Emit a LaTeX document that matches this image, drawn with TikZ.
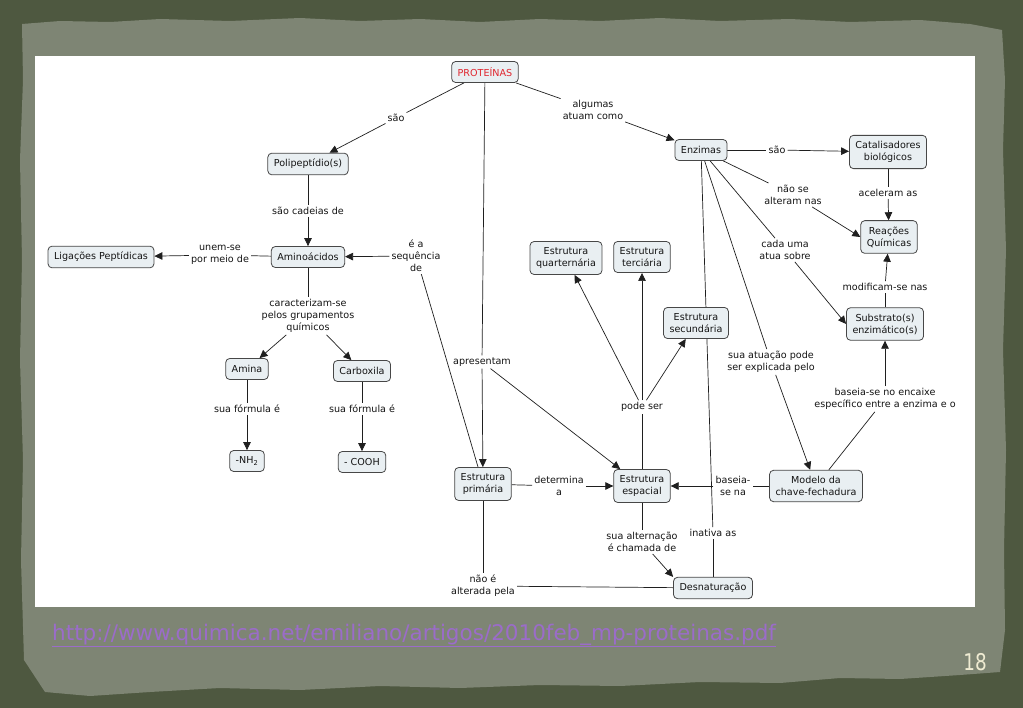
\documentclass[tikz,border=0pt]{standalone}
\usepackage{fontspec}
\setmainfont{DejaVu Sans}
\usetikzlibrary{arrows.meta,backgrounds}
\definecolor{slatebg}{HTML}{4E5840}
\definecolor{paperbg}{HTML}{7E8574}
\definecolor{conceptfill}{HTML}{E9EFF2}
\definecolor{protred}{HTML}{E0262F}
\definecolor{urlpurple}{HTML}{9B6CC9}
\definecolor{pagecream}{HTML}{EFEBD2}
\begin{document}
\begin{tikzpicture}
    [ x=1pt, y=-1pt
    , every node/.style={font=\fontsize{9.6}{12}\selectfont, text=black!92}
    , cmapbox/.style={draw=black!72, fill=conceptfill, rounded corners=4pt, line width=0.8pt,
                      align=center, inner xsep=6pt, inner ysep=6pt, minimum height=21pt}
    , linkphrase/.style={align=center, inner sep=2pt}
    , maplink/.style={draw=black!88, line width=0.7pt}
    , arrowtip/.style={-{Triangle[length=8pt,width=7.5pt]}}
    ]

    \useasboundingbox (0,0) rectangle (1023,708);

    % concepts
    \node [cmapbox, text=protred] (prot) at (485,72) {PROTEÍNAS};
    \node [cmapbox] (poli)   at (308,164) {Polipeptídio(s)};
    \node [cmapbox] (amino)  at (308,257) {Aminoácidos};
    \node [cmapbox] (lig)    at (101,257) {Ligações Peptídicas};
    \node [cmapbox] (amina)  at (247,369) {Amina};
    \node [cmapbox] (carbox) at (362,371) {Carboxila};
    \node [cmapbox] (nh)     at (247,461) {-NH\textsubscript{2}};
    \node [cmapbox] (cooh)   at (362,462) {- COOH};
    \node [cmapbox] (prim)   at (483,484) {Estrutura\\primária};
    \node [cmapbox] (espac)  at (642,486) {Estrutura\\espacial};
    \node [cmapbox] (quart)  at (566,258) {Estrutura\\quarternária};
    \node [cmapbox] (terc)   at (642,257) {Estrutura\\terciária};
    \node [cmapbox] (secund) at (696,323) {Estrutura\\secundária};
    \node [cmapbox] (desn)   at (713,588) {Desnaturação};
    \node [cmapbox] (enz)    at (701,150) {Enzimas};
    \node [cmapbox] (catal)  at (888,152) {Catalisadores\\biológicos};
    \node [cmapbox] (reac)   at (889,237) {Reações\\Químicas};
    \node [cmapbox] (subst)  at (885,324) {Substrato(s)\\enzimático(s)};
    \node [cmapbox] (modelo) at (816,486) {Modelo da\\chave-fechadura};

    % linking phrases
    \node [linkphrase] (lsao)     at (396,118) {são};
    \node [linkphrase] (lcadeias) at (308,211) {são cadeias de};
    \node [linkphrase] (lunem)    at (220,255) {unem-se\\por meio de};
    \node [linkphrase] (lseq)     at (416,256) {é a\\sequência\\de};
    \node [linkphrase] (lcaract)  at (308,316) {caracterizam-se\\pelos grupamentos\\químicos};
    \node [linkphrase] (lformA)   at (247,409) {sua fórmula é};
    \node [linkphrase] (lformC)   at (362,409) {sua fórmula é};
    \node [linkphrase] (lapres)   at (482,362) {apresentam};
    \node [linkphrase] (ldeterm)  at (559,486) {determina\\a};
    \node [linkphrase] (lpode)    at (642,407) {pode ser};
    \node [linkphrase] (lalter)   at (642,542) {sua alternação\\é chamada de};
    \node [linkphrase] (lnao)     at (483,586) {não é\\alterada pela};
    \node [linkphrase] (linat)    at (713,533) {inativa as};
    \node [linkphrase] (lalgumas) at (593,110) {algumas\\atuam como};
    \node [linkphrase] (lsao2)    at (777,150) {são};
    \node [linkphrase] (lacel)    at (888,193) {aceleram as};
    \node [linkphrase] (lnaose)   at (793,195) {não se\\alteram nas};
    \node [linkphrase] (lcada)    at (785,250) {cada uma\\atua sobre};
    \node [linkphrase] (lmodif)   at (885,287) {modificam-se nas};
    \node [linkphrase] (latua)    at (771,362) {sua atuação pode\\ser explicada pelo};
    \node [linkphrase] (lbaseia)  at (885,399) {baseia-se no encaixe\\específico entre a enzima e o};
    \node [linkphrase] (lbaseia2) at (733,486) {baseia-\\se na};

    % source and page number
    \node [anchor=base west, inner sep=0pt, text=urlpurple, font=\fontsize{21.5}{24}\selectfont]
        (url) at (52,640) {\underline{http://www.quimica.net/emiliano/artigos/2010feb\_mp-proteinas.pdf}};
    \node [inner sep=0pt, text=pagecream, font=\fontsize{23}{26}\selectfont] (pagenum) at (975,662)
        {\scalebox{0.8}[1]{18}};

    \begin{scope}[on background layer]
    % slide, torn paper and white sheet
    \fill [slatebg] (0,0) rectangle (1023,708);
    \fill [paperbg] (22,24) -- (60,21) -- (110,22) -- (160,19) -- (230,21) -- (300,18) -- (360,21)
        -- (420,19) -- (480,22) -- (540,19) -- (600,21) -- (660,18) -- (720,21) -- (790,19)
        -- (850,22) -- (920,20) -- (970,24) -- (1002,30) -- (1005,80) -- (1003,150) -- (1006,250)
        -- (1003,350) -- (1006,450) -- (1004,550) -- (1005,630) -- (1000,672) -- (960,675)
        -- (900,679) -- (840,678) -- (780,683) -- (700,682) -- (620,686) -- (540,685) -- (460,688)
        -- (380,686) -- (300,690) -- (220,688) -- (150,692) -- (90,696) -- (45,692) -- (24,660)
        -- (21,560) -- (23,460) -- (20,360) -- (22,260) -- (20,160) -- (23,80) -- cycle;
    \fill [white] (35,56) rectangle (975,607);

    % concept to linking phrase
    \foreach \from/\to in {prot/lsao, poli/lcadeias, amino/lunem, amino/lcaract, amina/lformA,
                           carbox/lformC, prot/lapres, prim/lseq, prim/ldeterm, prim/lnao,
                           lnao/desn, espac/lpode, espac/lalter, desn/linat, linat/enz,
                           prot/lalgumas, enz/lsao2, catal/lacel, enz/lnaose, enz/lcada,
                           subst/lmodif, enz/latua, modelo/lbaseia, modelo/lbaseia2}
        \draw [maplink] (\from) -- (\to);

    % linking phrase to concept
    \foreach \from/\to in {lsao/poli, lcadeias/amino, lunem/lig, lcaract/amina, lcaract/carbox,
                           lformA/nh, lformC/cooh, lapres/prim, lapres/espac, lseq/amino,
                           ldeterm/espac, lpode/quart, lpode/terc, lpode/secund,
                           lalter/desn.north west, lalgumas/enz, lsao2/catal, lacel/reac,
                           lnaose/reac.west, lcada/subst.west, lmodif/reac, latua/modelo,
                           lbaseia/subst, lbaseia2/espac}
        \draw [maplink, arrowtip] (\from) -- (\to);
    \end{scope}

\end{tikzpicture}
\end{document}
